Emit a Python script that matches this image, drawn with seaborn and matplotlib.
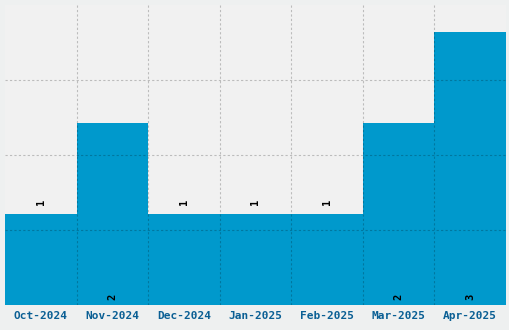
import matplotlib
matplotlib.use("Agg")
import matplotlib.pyplot as plt
import seaborn as sns
import pandas as pd
import numpy as np

months = ["Oct-2024", "Nov-2024", "Dec-2024", "Jan-2025", "Feb-2025", "Mar-2025", "Apr-2025"]
counts = [1, 2, 1, 1, 1, 2, 3]

df = pd.DataFrame({"month": months, "count": counts})

sns.set_style("white")
plt.rcParams["font.family"] = ["DejaVu Sans Mono"]

fig = plt.figure(figsize=(5.1, 3.3), dpi=100, facecolor="#eef0f0")
ax = fig.add_axes([5/510, 25/330, 501/510, 300/330])
ax.set_facecolor("#f1f1f1")

sns.barplot(data=df, x="month", y="count", color="#0099cc", width=1.0,
            saturation=1, ax=ax, zorder=1, linewidth=0)

ymax = 3.3
ax.set_ylim(0, ymax)
ax.set_xlim(-0.5, len(months) - 0.5)

# value labels
for i, v in enumerate(counts):
    if v == 1:
        ax.text(i, v + 0.1, str(v), rotation=90, ha="center", va="bottom",
                fontsize=7.5, fontweight="bold", color="black", zorder=3)
    else:
        ax.text(i, 0.05, str(v), rotation=90, ha="center", va="bottom",
                fontsize=7.5, fontweight="bold", color="black", zorder=3)

ax.set_yticks([ymax * k / 4 for k in range(1, 4)])
ax.set_yticklabels([])
ax.set_xticks(np.arange(0.5, len(months) - 0.5), minor=True)
ax.grid(True, which="minor", axis="x", linestyle=(0, (2, 2)), color="black",
        alpha=0.22, linewidth=0.8, zorder=2)
ax.grid(True, which="major", axis="y", linestyle=(0, (2, 2)), color="black",
        alpha=0.22, linewidth=0.8, zorder=2)
ax.grid(False, which="major", axis="x")
ax.set_axisbelow(False)

ax.tick_params(axis="both", which="both", length=0)
ax.tick_params(axis="x", pad=4)
for lbl in ax.get_xticklabels():
    lbl.set_fontweight("bold")
    lbl.set_fontsize(8)
    lbl.set_color("#0a5f94")

ax.set_xlabel("")
ax.set_ylabel("")
for s in ax.spines.values():
    s.set_visible(False)

fig.savefig("out.png", dpi=100, facecolor=fig.get_facecolor())
